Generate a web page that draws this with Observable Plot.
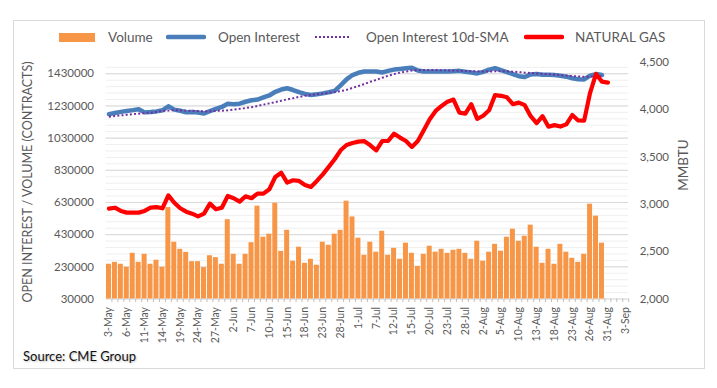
<!DOCTYPE html>
<html>
<head>
<meta charset="utf-8">
<script src="https://cdn.jsdelivr.net/npm/d3@7"></script>
<script src="https://cdn.jsdelivr.net/npm/@observablehq/plot@0.6"></script>
<style>
  body { margin: 0; background: #fff; font-family: Lato, "Open Sans", sans-serif; }
  #wrap { position: relative; width: 717px; height: 388px; overflow: hidden; background: #fff; }
  #frame { position: absolute; left: 13px; top: 20px; width: 692px; height: 349px; border: 1px solid #d9d9d9; box-sizing: border-box; }
  #chart { position: absolute; left: 0; top: 0; }
  .lg { position: absolute; top: 28px; font-size: 13.5px; color: #595959; line-height: 18px; white-space: nowrap; }
  .sw { position: absolute; }
  .ytitle { position: absolute; color: #595959; white-space: nowrap; transform: translate(-50%, -50%) rotate(-90deg); }
  #source { position: absolute; left: 23px; top: 348px; font-size: 13px; color: #111; text-shadow: 1px 1px 2px rgba(0,0,0,0.25); }
</style>
</head>
<body>
<div id="wrap">
  <div id="frame"></div>
  <div id="chart"></div>
  <svg class="sw" style="left:59px;top:33px" width="36" height="9"><rect x="0" y="0" width="36" height="9" fill="#F79646"/></svg>
  <div class="lg" style="left:108px">Volume</div>
  <svg class="sw" style="left:166px;top:34px" width="40" height="6"><line x1="2" y1="3" x2="38" y2="3" stroke="#4A7EBB" stroke-width="4.5" stroke-linecap="round"/></svg>
  <div class="lg" style="left:218px">Open Interest</div>
  <svg class="sw" style="left:314px;top:34px" width="38" height="6"><line x1="1" y1="3" x2="37" y2="3" stroke="#7030A0" stroke-width="2" stroke-dasharray="2,2"/></svg>
  <div class="lg" style="left:366px">Open Interest 10d-SMA</div>
  <svg class="sw" style="left:524px;top:34px" width="40" height="6"><line x1="2" y1="3" x2="38" y2="3" stroke="#FF0000" stroke-width="4.5" stroke-linecap="round"/></svg>
  <div class="lg" style="left:575px">NATURAL GAS</div>
  <div class="ytitle" style="left:27px;top:182px;font-size:12.5px">OPEN INTEREST / VOLUME (CONTRACTS)</div>
  <div class="ytitle" style="left:683px;top:165px;font-size:13.5px">MMBTU</div>
  <div id="source">Source: CME Group</div>
</div>
<script>
const dates = [
  "3-May","4-May","5-May","6-May","7-May","10-May","11-May","12-May","13-May","14-May",
  "17-May","18-May","19-May","20-May","21-May","24-May","25-May","26-May","27-May","28-May",
  "1-Jun","2-Jun","3-Jun","4-Jun","7-Jun","8-Jun","9-Jun","10-Jun","11-Jun","14-Jun",
  "15-Jun","16-Jun","17-Jun","18-Jun","21-Jun","22-Jun","23-Jun","24-Jun","25-Jun","28-Jun",
  "29-Jun","30-Jun","1-Jul","2-Jul","6-Jul","7-Jul","8-Jul","9-Jul","12-Jul","13-Jul",
  "14-Jul","15-Jul","16-Jul","19-Jul","20-Jul","21-Jul","22-Jul","23-Jul","26-Jul","27-Jul",
  "28-Jul","29-Jul","30-Jul","2-Aug","3-Aug","4-Aug","5-Aug","6-Aug","9-Aug","10-Aug",
  "11-Aug","12-Aug","13-Aug","16-Aug","17-Aug","18-Aug","19-Aug","20-Aug","23-Aug","24-Aug",
  "25-Aug","26-Aug","27-Aug","30-Aug","31-Aug","1-Sep","2-Sep","3-Sep"
];

const xTickLabels = [
  "3-May","6-May","11-May","14-May","19-May","24-May","27-May","2-Jun","7-Jun","10-Jun",
  "15-Jun","18-Jun","23-Jun","28-Jun","1-Jul","7-Jul","12-Jul","15-Jul","20-Jul","23-Jul",
  "28-Jul","2-Aug","5-Aug","10-Aug","13-Aug","18-Aug","23-Aug","26-Aug","31-Aug","3-Sep"
];

const volume = [
  246000,258000,246000,227000,314000,258000,308000,246000,271000,227000,
  598000,383000,339000,320000,262000,262000,225000,299000,287000,246000,
  523000,308000,246000,308000,380000,607000,414000,433000,625000,326000,
  457000,265000,352000,252000,277000,240000,383000,364000,433000,457000,
  638000,540000,408000,302000,383000,321000,451000,302000,345000,277000,
  377000,314000,233000,308000,358000,321000,339000,314000,333000,339000,
  314000,277000,389000,265000,321000,370000,327000,414000,464000,389000,
  420000,489000,352000,252000,339000,246000,370000,321000,283000,258000,
  308000,619000,545000,377000
];

const openInterest = [
  1179000,1186000,1193000,1199000,1204000,1210000,1190000,1192000,1196000,1203000,
  1228000,1207000,1200000,1190000,1192000,1189000,1183000,1198000,1212000,1224000,
  1244000,1241000,1244000,1256000,1265000,1270000,1283000,1295000,1318000,1332000,
  1340000,1329000,1316000,1305000,1298000,1302000,1308000,1315000,1324000,1358000,
  1395000,1422000,1436000,1444000,1444000,1444000,1438000,1448000,1456000,1460000,
  1464000,1468000,1450000,1444000,1444000,1444000,1444000,1444000,1446000,1448000,
  1442000,1438000,1432000,1442000,1456000,1465000,1452000,1440000,1428000,1415000,
  1410000,1426000,1428000,1424000,1424000,1422000,1418000,1412000,1402000,1396000,
  1395000,1418000,1428000,1422000
];

const openInterestSMA = [
  1163000,1167000,1171000,1175000,1179000,1182000,1185000,1188000,1193000,1198000,
  1201000,1204000,1203000,1201000,1200000,1198000,1196000,1197000,1199000,1200000,
  1203000,1207000,1212000,1217000,1222000,1230000,1238000,1246000,1254000,1262000,
  1271000,1278000,1286000,1293000,1298000,1303000,1307000,1311000,1316000,1322000,
  1330000,1342000,1354000,1366000,1380000,1392000,1405000,1418000,1428000,1437000,
  1444000,1450000,1453000,1454000,1454000,1453000,1452000,1451000,1450000,1449000,
  1447000,1446000,1445000,1444000,1444000,1445000,1446000,1445000,1443000,1440000,
  1437000,1435000,1432000,1430000,1427000,1425000,1422000,1419000,1416000,1413000,
  1411000,1412000,1414000,1416000
];

const naturalGas = [
  2955,2965,2931,2913,2913,2913,2931,2965,2971,2959,
  3096,3018,2959,2923,2902,2874,2902,3008,2949,2965,
  3089,3065,3029,3086,3065,3114,3114,3160,3290,3335,
  3230,3255,3248,3206,3184,3248,3318,3396,3477,3572,
  3628,3649,3664,3668,3625,3572,3670,3670,3748,3706,
  3670,3608,3670,3784,3900,3988,4041,4086,4108,3970,
  3960,4059,3904,3937,3995,4156,4148,4132,4059,4076,
  4049,3932,3860,3932,3821,3838,3823,3846,3945,3887,
  3885,4180,4379,4298,4287
];

const leftTicks = [30000,230000,430000,630000,830000,1030000,1230000,1430000];
const rightTicks = [2000,2500,3000,3500,4000,4500];

const leftMin = 30000, leftMax = 1500000;
const rightMin = 2000, rightMax = 4500;
const toLeft = d3.scaleLinear([rightMin, rightMax], [leftMin, leftMax]);
const minorGrid = d3.range(leftMin, leftMax, 40000);

const barRows = volume.map((v, i) => ({date: dates[i], volume: v}));
const oiRows = openInterest.map((v, i) => ({date: dates[i], oi: v}));
const smaRows = openInterestSMA.map((v, i) => ({date: dates[i], sma: v}));
const ngRows = naturalGas.map((v, i) => ({date: dates[i], ng: v}));

const chart = Plot.plot({
  width: 717,
  height: 388,
  marginTop: 62,
  marginBottom: 89.5,
  marginLeft: 105.5,
  marginRight: 88.8,
  style: {fontFamily: "Lato, 'Open Sans', sans-serif", color: "#595959", background: "transparent"},
  x: {type: "band", domain: dates, paddingInner: 0.16, paddingOuter: 0.08, axis: null},
  y: {domain: [leftMin, leftMax], axis: null},
  marks: [
    Plot.ruleY(minorGrid, {stroke: "#efefef", strokeWidth: 1}),
    Plot.ruleY(leftTicks, {stroke: "#d9d9d9", strokeWidth: 1}),
    Plot.barY(barRows, {x: "date", y1: leftMin, y2: "volume", fill: "#F79646"}),
    Plot.line(oiRows, {x: "date", y: "oi", stroke: "#4A7EBB", strokeWidth: 4.5}),
    Plot.line(smaRows, {x: "date", y: "sma", stroke: "#7030A0", strokeWidth: 2, strokeDasharray: "2,2.2", strokeLinecap: "butt"}),
    Plot.line(ngRows, {x: "date", y: d => toLeft(d.ng), stroke: "#FF0000", strokeWidth: 4.2}),
    Plot.axisY(leftTicks, {anchor: "left", tickSize: 0, tickPadding: 12, tickFormat: d => String(d), fontSize: 11.5, label: null}),
    Plot.axisY(rightTicks.map(t => toLeft(t)), {anchor: "right", tickSize: 0, tickPadding: 11, tickFormat: d => d3.format(",")(Math.round(toLeft.invert(d))), fontSize: 11.5, label: null}),
    Plot.axisX(dates, {tickSize: 3.5, tickFormat: () => "", dx: 2.97, stroke: "#bfbfbf", label: null}),
    Plot.axisX(xTickLabels, {tickSize: 0, tickPadding: 8, tickRotate: -90, fontSize: 10.5, label: null})
  ]
});
document.getElementById("chart").appendChild(chart);
</script>
</body>
</html>
